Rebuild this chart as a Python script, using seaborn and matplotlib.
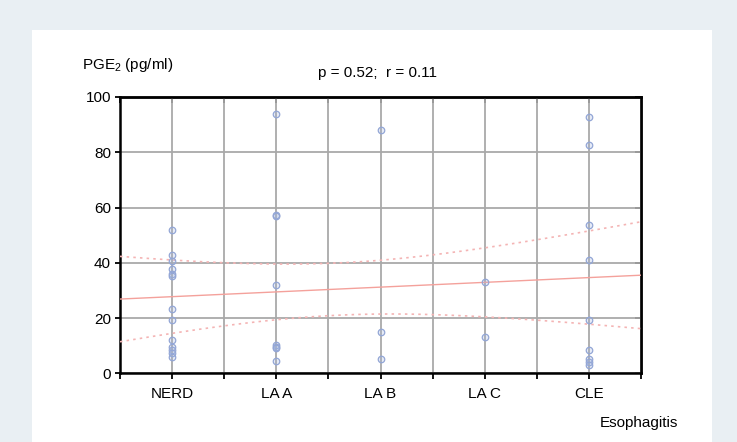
import numpy as np
import pandas as pd
import matplotlib
matplotlib.use("Agg")
import matplotlib.pyplot as plt
from matplotlib.patches import Rectangle
import seaborn as sns

# PGE2 concentration by esophagitis grade
categories = ["NERD", "LA A", "LA B", "LA C", "CLE"]
nerd = [52.0, 42.9, 40.7, 37.7, 35.9, 35.3, 23.1, 19.4, 12.2, 9.5, 8.4, 7.2, 5.9]
la_a = [93.7, 57.2, 56.8, 31.8, 10.3, 9.6, 9.2, 4.5]
la_b = [88.0, 15.0, 5.1]
la_c = [32.9, 13.0]
cle = [92.8, 82.5, 53.5, 41.1, 19.4, 8.5, 5.2, 4.1, 3.0]
y_ticks = [0, 20, 40, 60, 80, 100]
stats_text = "p = 0.52;  r = 0.11"

groups = [nerd, la_a, la_b, la_c, cle]
df = pd.DataFrame({
    "grade": np.concatenate([[i + 1] * len(g) for i, g in enumerate(groups)]),
    "pge2": np.concatenate(groups),
})

sns.set_theme(style="white")
plt.rcParams["font.family"] = ["Liberation Sans", "DejaVu Sans"]
plt.rcParams["mathtext.fontset"] = "custom"
plt.rcParams["mathtext.rm"] = "Liberation Sans"
plt.rcParams["mathtext.default"] = "regular"
plt.rcParams["text.color"] = "black"
plt.rcParams["xtick.color"] = "black"
plt.rcParams["ytick.color"] = "black"

W, H = 737, 442
fig = plt.figure(figsize=(W / 100, H / 100), dpi=100, facecolor="#e9eff3")
fig.patches.append(Rectangle((32 / W, 0), (712 - 32) / W, (H - 29.5) / H,
                             transform=fig.transFigure, facecolor="white",
                             edgecolor="none", zorder=-5))

ax = fig.add_axes([120 / W, 1 - 373.3 / H, (641 - 120) / W, (373.3 - 97) / H])
ax.set_zorder(2)
ax.set_facecolor("white")

# linear fit with 95% confidence band for the mean
x = df["grade"].to_numpy(float)
y = df["pge2"].to_numpy(float)
n = len(x)
slope, intercept = np.polyfit(x, y, 1)
xs = np.linspace(0.5, 5.5, 200)
yhat = intercept + slope * xs
resid = y - (intercept + slope * x)
s = np.sqrt(np.sum(resid ** 2) / (n - 2))
sxx = np.sum((x - x.mean()) ** 2)
t_crit = 2.0345
half = t_crit * s * np.sqrt(1 / n + (xs - x.mean()) ** 2 / sxx)
fit = pd.DataFrame({"x": xs, "fit": yhat, "lo": yhat - half, "hi": yhat + half})

sns.lineplot(data=fit, x="x", y="fit", ax=ax, color="#f4a19b", lw=1.0, zorder=3)
for col in ["lo", "hi"]:
    sns.lineplot(data=fit, x="x", y=col, ax=ax, color="#f4b4b4", lw=1.2,
                 linestyle=(0, (1.5, 2.5)), zorder=3)

sns.scatterplot(data=df, x="grade", y="pge2", ax=ax, s=22, marker="o",
                facecolor=(0.62, 0.70, 0.88, 0.25), edgecolor="#93a6d6",
                linewidth=0.9, zorder=4)

ax.set_xlim(0.5, 5.5)
ax.set_ylim(0, 100)
ax.set_xticks(np.arange(1, 6))
ax.set_xticklabels(categories)
ax.set_xticks(np.arange(0.5, 5.6, 0.5), minor=True)
ax.set_yticks(y_ticks)
ax.set_yticklabels([str(v) for v in y_ticks])
ax.set_xlabel("")
ax.set_ylabel("")

ax.grid(True, which="both", axis="x", color="#a9a9a9", lw=1.3, zorder=1)
ax.grid(True, which="major", axis="y", color="#a9a9a9", lw=1.3, zorder=1)
ax.set_axisbelow(True)

for sp in ax.spines.values():
    sp.set_visible(True)
    sp.set_color("black")
    sp.set_linewidth(1.8)

ax.tick_params(axis="x", which="both", bottom=True, top=False, direction="out",
               length=4, width=1.3, labelsize=11, pad=6)
ax.tick_params(axis="y", which="both", left=True, right=False, direction="out",
               length=3.5, width=1.3, labelsize=11, pad=3)

# inward ticks along the top and right frame
top = ax.secondary_xaxis("top")
top.set_xticks(np.arange(0.5, 5.6, 0.5))
top.tick_params(direction="in", length=4, width=1.3, labeltop=False)
top.spines["top"].set_linewidth(1.8)
right = ax.secondary_yaxis("right")
right.set_yticks(y_ticks)
right.tick_params(direction="in", length=4, width=1.3, labelright=False)
right.spines["right"].set_linewidth(1.8)

fig.text(81.5 / W, 1 - 65 / H, r"PGE$_{2}$ (pg/ml)", fontsize=11, ha="left",
         va="center")
fig.text(377 / W, 1 - 73 / H, stats_text, fontsize=11, ha="center",
         va="center")
fig.text(678 / W, 1 - 423 / H, "Esophagitis", fontsize=11, ha="right",
         va="center")

fig.savefig("out.png", dpi=100, facecolor=fig.get_facecolor())
